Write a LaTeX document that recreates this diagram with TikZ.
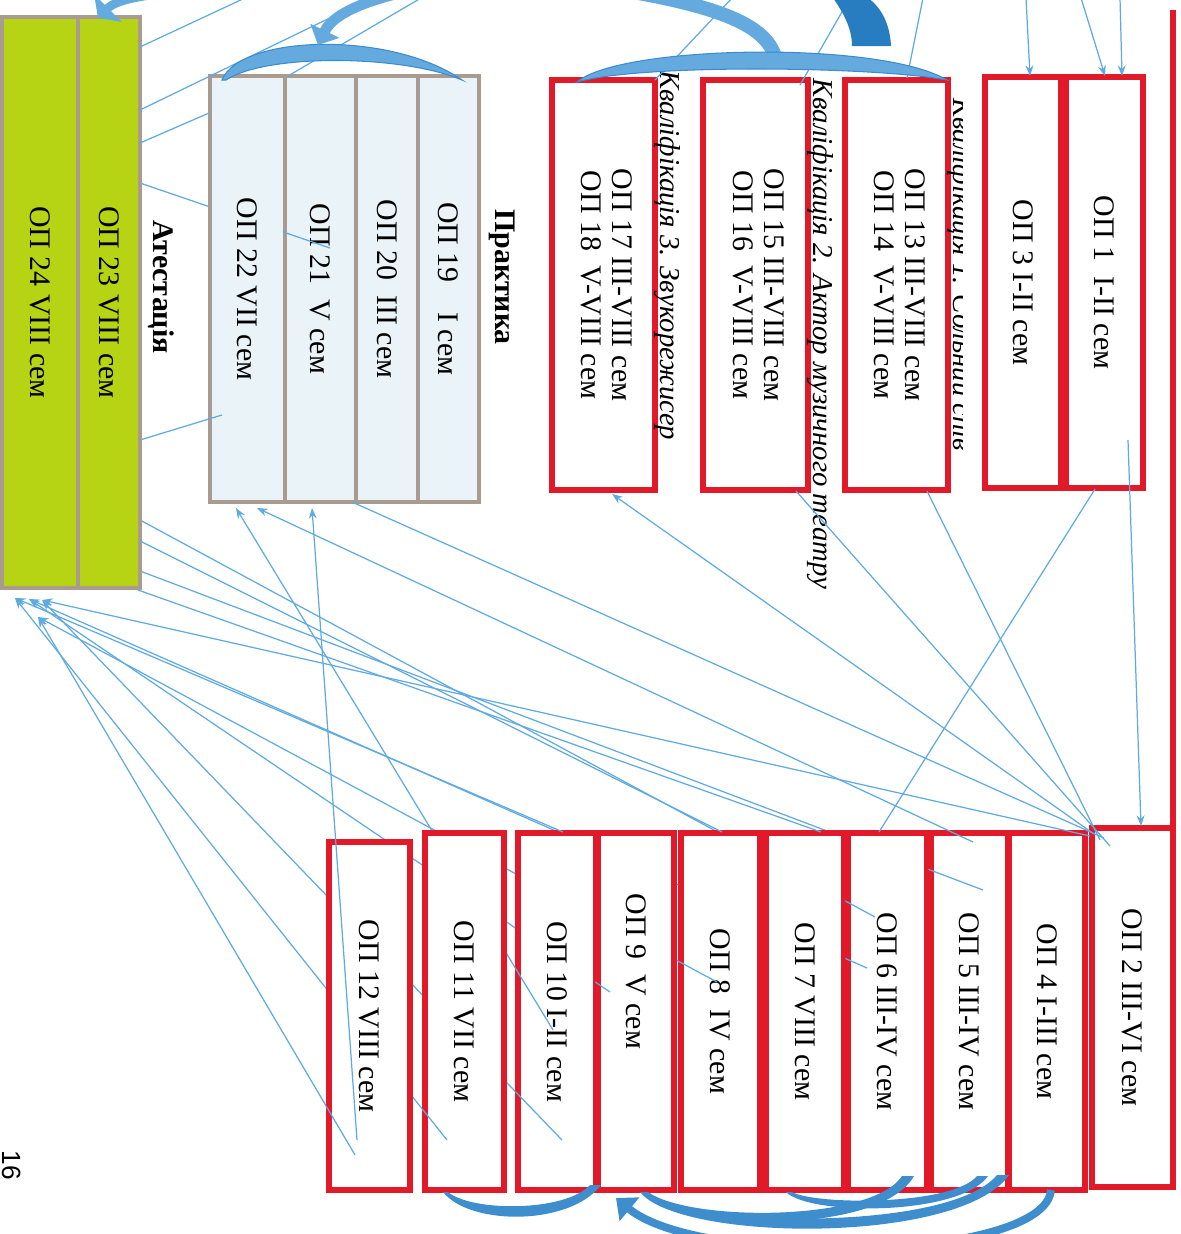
\documentclass[tikz,border=0pt]{standalone}
\usepackage{fontspec}
\setmainfont{Liberation Serif}
\newfontfamily\pagefont{Liberation Sans}
\usepackage{graphicx}
\usetikzlibrary{arrows.meta}
\definecolor{opred}{RGB}{225,25,40}
\definecolor{framegray}{RGB}{170,155,145}
\definecolor{grfill}{RGB}{183,212,20}
\definecolor{prfill}{RGB}{233,243,248}
\definecolor{linkblue}{RGB}{95,170,225}
\definecolor{bandblue}{RGB}{100,170,222}
\definecolor{bandedge}{RGB}{60,140,205}
\definecolor{darkband}{RGB}{40,125,192}
\definecolor{lowband}{RGB}{62,142,206}

\begin{document}
\begin{tikzpicture}[x=0.02cm,y=-0.02cm,
  font=\fontsize{17}{18}\selectfont,
  opbox/.style={draw=opred,line width=3.1pt,fill=white,inner sep=0pt},
  grbox/.style={draw=framegray,line width=2.4pt,fill=grfill,inner sep=0pt},
  prbox/.style={draw=framegray,line width=2.4pt,fill=prfill,inner sep=0pt},
  sz/.style 2 args={minimum width=#1*0.02cm,minimum height=#2*0.02cm},
  link/.style={draw=linkblue,line width=0.7pt},
  arr/.style={-{Stealth[length=6pt,width=4.5pt]}},
  qlab/.style={rotate=-90,anchor=base west,font=\fontsize{16.4}{18}\selectfont\itshape,inner sep=0pt},
  grouplab/.style={rotate=-90,font=\fontsize{17}{18}\selectfont\bfseries},
  band/.style={draw=bandedge,line width=0.6pt,fill=bandblue}]
\useasboundingbox (0,0) rectangle (1180,1234);
\clip (0,0) rectangle (1180,1234);

% end points of the links
\coordinate (u1) at (1081,-2);  \coordinate (u2) at (1120,-2);
\coordinate (u3) at (1026,-2);  \coordinate (u4) at (923,-2);
\coordinate (u5) at (850,-2);   \coordinate (u6) at (732,-2);
\coordinate (u7) at (421,-2);   \coordinate (u8) at (371,-2);
\coordinate (u9) at (245,-2);
\coordinate (g1) at (140,47);   \coordinate (g2) at (140,110);
\coordinate (g3) at (140,143);  \coordinate (g4) at (140,183);
\coordinate (g5) at (140,440);  \coordinate (g6) at (140,520);
\coordinate (g7) at (140,541);  \coordinate (g8) at (140,571);
\coordinate (g9) at (138,590);
\coordinate (ga) at (15,598);   \coordinate (gb) at (29,599);
\coordinate (gc) at (42,600);   \coordinate (gd) at (38,617);
\coordinate (pr2) at (288,76);  \coordinate (pr3) at (209,113);
\coordinate (pr4) at (330,248); \coordinate (pr5) at (222,415);
\coordinate (pa) at (236,508);  \coordinate (pb) at (257,508);
\coordinate (pc) at (312,508);  \coordinate (pd) at (352,502);
\coordinate (a1) at (1105,76);  \coordinate (a2) at (1122,76);
\coordinate (a3) at (1128,440); \coordinate (a4) at (1095,489);
\coordinate (b1) at (1030,76);
\coordinate (c1) at (907,78);   \coordinate (c2) at (927,491);
\coordinate (d1) at (800,85);   \coordinate (d2) at (796,491);
\coordinate (e1) at (655,80);   \coordinate (e2) at (612,494);
\coordinate (k2a) at (1141,826);
\coordinate (s1) at (1100,840); \coordinate (s2) at (1110,846);
\coordinate (s3) at (1094,834); \coordinate (s4) at (1090,836);
\coordinate (s5) at (1104,838);
\coordinate (k5a) at (973,842); \coordinate (k5b) at (983,890);
\coordinate (k6a) at (879,832); \coordinate (k6b) at (875,917);
\coordinate (k6c) at (867,968); \coordinate (k7a) at (821,832);
\coordinate (k8a) at (722,832); \coordinate (k8b) at (717,982);
\coordinate (k9a) at (610,992);
\coordinate (k10a) at (553,1030); \coordinate (k10b) at (562,1140);
\coordinate (k10c) at (563,832);
\coordinate (k11a) at (447,1140);
\coordinate (k12a) at (357,1140); \coordinate (k12b) at (355,1155);

% links that run behind the boxes
\foreach \a/\b in {k10a/pa,k5a/pb,k12a/pc,k12b/gd,k11a/ga,k10b/gc,k9a/gb,k8b/gd,k6c/gb}
  \draw[link,arr] (\a) -- (\b);
\foreach \a/\b in {g6/k6b,g8/k5b,g4/pr4,g5/pr5}
  \draw[link] (\a) -- (\b);

% Атестація
\node[grbox,sz={76}{571}] (op24) at (40,302.5) {\rotatebox{-90}{ОП 24 VIII сем}};
\node[grbox,sz={62}{571}] (op23) at (109,302.5) {\rotatebox{-90}{ОП 23 VIII сем}};
\node[grouplab] (atest) at (161,287) {Атестація};

% Практика
\node[prbox,sz={75}{426}] (op22) at (247.5,289) {\rotatebox{-90}{ОП 22 VII сем}};
\node[prbox,sz={71}{426}] (op21) at (320.5,289) {\rotatebox{-90}{ОП 21\enspace V сем}};
\node[prbox,sz={62}{426}] (op20) at (387,289) {\rotatebox{-90}{ОП 20\enspace III сем}};
\node[prbox,sz={61}{426}] (op19) at (448.5,289) {\rotatebox{-90}{ОП 19\quad I сем}};
\node[grouplab] (prak) at (502,277) {Практика};

% upper row
\node[opbox,sz={103}{410}] (op17) at (603.5,285) {\rotatebox{-90}{\begin{tabular}{@{}c@{}}ОП 17 III-VIII сем\\ОП 18~~V-VIII сем\end{tabular}}};
\node[opbox,sz={105}{410}] (op15) at (755.5,285) {\rotatebox{-90}{\begin{tabular}{@{}c@{}}ОП 15 III-VIII сем\\ОП 16~~V-VIII сем\end{tabular}}};
\node[opbox,sz={103}{410}] (op13) at (896.5,285) {\rotatebox{-90}{\begin{tabular}{@{}c@{}}ОП 13 III-VIII сем\\ОП 14~~V-VIII сем\end{tabular}}};
\node[opbox,sz={76}{411}] (op3) at (1023,282.5) {\rotatebox{-90}{ОП 3 I-II сем}};
\node[opbox,sz={77}{411}] (op1) at (1104.5,282.5) {\rotatebox{-90}{ОП 1~~I-II сем}};
\node[qlab] (q3) at (660,70) {Кваліфікація 3. Звукорежисер};
\node[qlab] (q2) at (813,78) {Кваліфікація 2. Актор музичного театру};
\begin{scope}
  \clip (930,0) rectangle (962,620);
  \node[qlab] (q1) at (953,98) {Кваліфікація 1. Сольний спів};
\end{scope}

% lower row
\node[opbox,sz={81}{348}] (op12) at (369.5,1016) {\rotatebox{-90}{ОП 12 VIII сем}};
\node[opbox,sz={79}{357}] (op11) at (464.5,1011.5) {\rotatebox{-90}{ОП 11 VII сем}};
\node[opbox,sz={78}{357}] (op10) at (557,1011.5) {\rotatebox{-90}{ОП 10 I-II сем}};
\node[opbox,sz={76}{357}] (op9) at (636,1011.5) {\rotatebox{-90}{ОП 9~~V сем\hspace*{1.6cm}}};
\node[opbox,sz={79}{357}] (op8) at (720.5,1011.5) {\rotatebox{-90}{ОП 8~~IV сем}};
\node[opbox,sz={78}{357}] (op7) at (805,1011.5) {\rotatebox{-90}{ОП 7 VIII сем}};
\node[opbox,sz={79}{357}] (op6) at (887.5,1011.5) {\rotatebox{-90}{ОП 6 III-IV сем}};
\node[opbox,sz={77}{357}] (op5) at (969.5,1011.5) {\rotatebox{-90}{ОП 5 III-IV сем}};
\node[opbox,sz={76}{357}] (op4) at (1047,1011.5) {\rotatebox{-90}{ОП 4 I-III сем}};
\node[opbox,sz={81}{359}] (op2) at (1132.5,1007.5) {\rotatebox{-90}{ОП 2 III-VI сем}};
\draw[opred,line width=3.1pt] (1173,10) -- (1173,1187);

\node[rotate=-90,anchor=base west,inner sep=0pt,font=\pagefont\fontsize{15}{16}\selectfont] (pg) at (3,1150) {16};

% ends of the hidden links inside their boxes
\foreach \a/\b/\c in {k10a/pa/op10,k5a/pb/op5,k12a/pc/op12,k12b/gd/op12,k11a/ga/op11,k10b/gc/op10,k9a/gb/op9,k8b/gd/op8,k6c/gb/op6,g6/k6b/op6,g8/k5b/op5,g4/pr4/op21,g5/pr5/op22}{
  \begin{scope}
    \clip (\c.north west) rectangle (\c.south east);
    \draw[link] (\a) -- (\b);
  \end{scope}}

% links on top
\foreach \a/\b in {a3/k2a,u1/a1,u2/a2,u3/b1,s3/e2,k10c/ga,s4/gc}
  \draw[link,arr] (\a) -- (\b);
\foreach \a/\b in {a4/k6a,c2/s1,d2/s2,pd/s5,g7/k8a,g9/k7a,u4/c1,u5/d1,u6/e1,u7/pr2,u8/g2,u9/g1,g3/pr3}
  \draw[link] (\a) -- (\b);

% thick arrows on top
\draw[bandblue,line width=8pt] (776,60) .. controls (768,25) and (720,6) .. (610,-12);
\fill[band] (577,82) .. controls (620,45) and (880,40) .. (947,80) .. controls (870,66) and (640,64) .. (577,82) -- cycle;
\fill[band] (222,80) .. controls (240,35) and (390,30) .. (462,80) .. controls (400,54) and (265,54) .. (226,80) -- cycle;
\draw[bandblue,line width=6pt,-{Triangle[length=9pt,width=18pt]}] (440,-15) .. controls (380,-5) and (335,10) .. (318,45);
\draw[bandblue,line width=5pt,-{Triangle[length=8pt,width=22pt]}] (215,-12) .. controls (150,-6) and (118,-2) .. (98,18);
\fill[darkband] (833,-2) .. controls (845,15) and (852,30) .. (852,46) -- (891,46) .. controls (890,25) and (882,8) .. (868,-2) -- cycle;

\fill[lowband] (443,1192) .. controls (470,1226) and (570,1226) .. (601,1185) -- (590,1185) .. controls (565,1212) and (472,1212) .. (448,1192) -- cycle;
\fill[lowband] (640,1192) .. controls (680,1242) and (960,1245) .. (1009,1175) -- (997,1175) .. controls (950,1232) and (690,1228) .. (646,1192) -- cycle;
\fill[lowband] (642,1192) .. controls (680,1232) and (880,1236) .. (914,1176) -- (902,1176) .. controls (872,1222) and (690,1222) .. (648,1192) -- cycle;
\fill[lowband] (786,1192) .. controls (810,1216) and (960,1216) .. (988,1176) -- (977,1176) .. controls (952,1206) and (815,1205) .. (792,1192) -- cycle;
\draw[lowband,line width=4.5pt,-{Triangle[length=10pt,width=17pt]}] (1051,1190) .. controls (1045,1262) and (700,1268) .. (616,1198);
\end{tikzpicture}
\end{document}
